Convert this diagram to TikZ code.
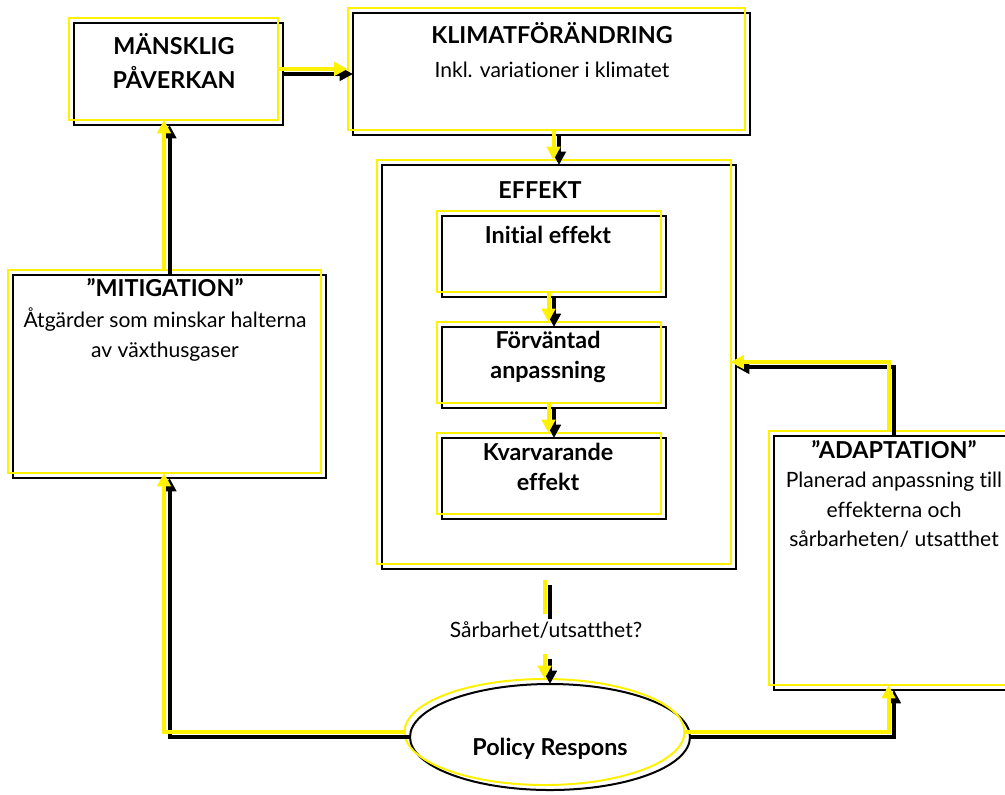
\documentclass[tikz,border=0pt]{standalone}
\usepackage{fontspec}
\setmainfont{Lato}[Ligatures=NoCommon]
\usetikzlibrary{arrows.meta,shapes.geometric}

\newcommand\hb{\fontsize{17.5}{23}\selectfont\bfseries}

\begin{document}
\begin{tikzpicture}[x=0.75pt,y=-0.75pt,
  box/.style={draw,line width=1.5pt,rectangle,outer sep=0pt,inner sep=0pt},
  ybox/.style={draw=yellow,line width=1.5pt,transform canvas={shift={(-5.5,-5)}}},
  conn/.style={line width=3pt,-{Triangle[length=10pt,width=10pt]}},
  yconn/.style={conn,yellow,transform canvas={shift={(-5.5,-5)}}},
  head/.style={font=\hb,align=center},
  txt/.style={font=\fontsize{15.8}{22}\selectfont,align=center}]
\useasboundingbox (0,0) rectangle (1005,794);

% boxes
\node [box,minimum width=156.75pt,minimum height=76.5pt] (mansk) at (178.5,74) {};
\node [box,minimum width=297.75pt,minimum height=91.5pt] (klimat) at (551.5,74) {};
\node [box,minimum width=265.5pt,minimum height=303pt] (eff) at (559,367) {};
\node [box,minimum width=168pt,minimum height=60.75pt] (init) at (554,256.5) {};
\node [box,minimum width=168pt,minimum height=60.75pt] (forv) at (554,367.5) {};
\node [box,minimum width=168pt,minimum height=60.75pt] (kvar) at (554,478.5) {};
\node [box,minimum width=234.75pt,minimum height=152.25pt] (mitig) at (169.5,376.5) {};
\node [box,minimum width=180pt,minimum height=190.5pt] (adapt) at (894,563) {};
\node [box,ellipse,minimum width=210pt,minimum height=79.5pt,
  font=\hb,text height=30pt,text depth=3pt] (pol) at (550,737) {Policy Respons};

% yellow copies of the boxes
\draw [ybox] (mansk.north west) rectangle (mansk.south east);
\draw [ybox] (klimat.north west) rectangle (klimat.south east);
\draw [ybox] (eff.north west) rectangle (eff.south east);
\draw [ybox] (init.north west) rectangle (init.south east);
\draw [ybox] (forv.north west) rectangle (forv.south east);
\draw [ybox] (kvar.north west) rectangle (kvar.south east);
\draw [ybox] (mitig.north west) rectangle (mitig.south east);
\draw [ybox] (adapt.north west) rectangle (adapt.south east);
\draw [ybox] (pol.center) ellipse [x radius=105pt,y radius=39.75pt];

% texts
\node [head,font={\fontsize{17.5}{25}\selectfont\bfseries}] (manskT) at (174,61) {MÄNSKLIG\\PÅVERKAN};
\node [head] (klimatT) at (552,33) {KLIMATFÖRÄNDRING};
\node [txt] (klimatS) at (552,70) {Inkl. variationer i klimatet};
\node [head] (effT) at (540,190) {EFFEKT};
\node [head] (initT) at (548,235) {Initial effekt};
\node [head] (forvT) at (548,357) {Förväntad\\anpassning};
\node [head] (kvarT) at (548,467) {Kvarvarande\\effekt};
\node [txt,font={\fontsize{15.8}{23}\selectfont}] (mitigT) at (165,320) {{\hb ”MITIGATION”}\\Åtgärder som minskar halterna\\av växthusgaser};
\node [txt] (adaptT) at (894,494) {{\hb ”ADAPTATION”}\\Planerad anpassning till\\effekterna och\\sårbarheten/ utsatthet};
\node [txt,inner sep=0pt] (vuln) at (546,630) {Sårbarhet/utsatthet?};

% connectors
\draw [conn] (mansk.east) -- (klimat.west);
\draw [conn] (klimat.south -| eff.north) -- (eff.north);
\draw [conn] (init.south) -- (forv.north);
\draw [conn] (forv.south) -- (kvar.north);
\draw [conn,-,shorten <=12pt,shorten >=2pt] (eff.south -| pol.north) -- (vuln.north -| pol.north);
\draw [conn,shorten <=15pt] (vuln.south -| pol.north) -- (pol.north);
\draw [conn] (pol.west) -| (mitig.south);
\draw [conn] (mitig.north) -- (mitig.north |- mansk.south);
\draw [conn] (pol.east) -| (adapt.south);
\draw [conn] (adapt.north) |- (eff.east);

% yellow copies of the connectors
\draw [yconn] (mansk.east) -- (klimat.west);
\draw [yconn] (klimat.south -| eff.north) -- (eff.north);
\draw [yconn] (init.south) -- (forv.north);
\draw [yconn] (forv.south) -- (kvar.north);
\draw [yconn,-,shorten <=12pt,shorten >=2pt] (eff.south -| pol.north) -- (vuln.north -| pol.north);
\draw [yconn,shorten <=15pt] (vuln.south -| pol.north) -- (pol.north);
\draw [yconn] (pol.west) -| (mitig.south);
\draw [yconn] (mitig.north) -- (mitig.north |- mansk.south);
\draw [yconn] (pol.east) -| (adapt.south);
\draw [yconn] (adapt.north) |- (eff.east);
\end{tikzpicture}
\end{document}
